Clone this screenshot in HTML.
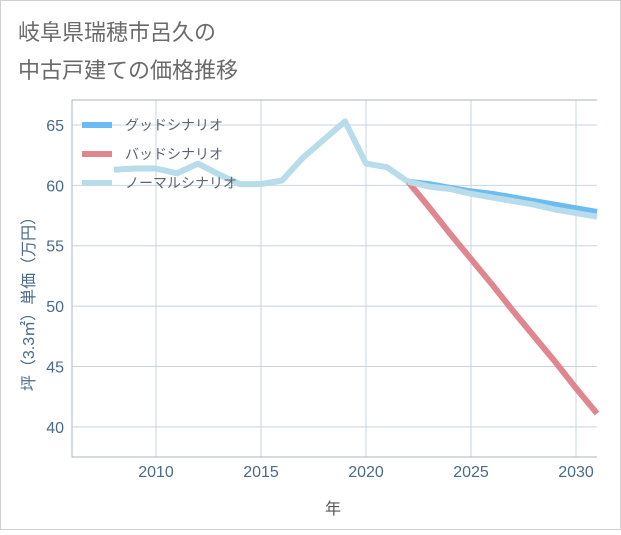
<!DOCTYPE html>
<html><head><meta charset="utf-8"><style>
body{margin:0;background:#fff;}
svg text{font-family:"Liberation Sans","Noto Sans CJK JP",sans-serif;}
</style></head><body>
<svg width="621" height="530" viewBox="0 0 621 530" xmlns="http://www.w3.org/2000/svg">
<rect x="0.5" y="0.5" width="620" height="529" fill="#fff" stroke="#d0d0d0"/>
<text x="18" y="40" font-size="22" fill="#6a6a6a">岐阜県瑞穂市呂久の</text>
<text x="18" y="78" font-size="22" fill="#6a6a6a">中古戸建ての価格推移</text>
<g id="grid"></g>
<g id="series"></g>
<g id="axes"></g>
<text x="333" y="514" font-size="16" fill="#555" text-anchor="middle">年</text>
<text transform="translate(34,300) rotate(-90)" font-size="16" fill="#4a6a8a" text-anchor="middle">坪（3.3㎡）単価（万円）</text>
<g id="legend"></g>
</svg>
<script>
const xTicks=[2010,2015,2020,2025,2030];
const yTicks=[40,45,50,55,60,65];
const histYears=[2008,2009,2010,2011,2012,2013,2014,2015,2016,2017,2018,2019,2020,2021,2022];
const histValues=[61.3,61.4,61.4,61.0,61.8,60.9,60.1,60.1,60.4,62.3,63.8,65.3,61.8,61.5,60.3];
const futYears=[2022,2023,2024,2025,2026,2027,2028,2029,2030,2031];
const goodValues=[60.3,60.1,59.8,59.5,59.3,59.0,58.7,58.4,58.1,57.8];
const badValues=[60.3,58.2,56.0,53.9,51.8,49.6,47.5,45.4,43.2,41.1];
const normalValues=[60.3,59.9,59.7,59.3,59.0,58.7,58.4,58.0,57.7,57.4];
const seriesNames=["グッドシナリオ","バッドシナリオ","ノーマルシナリオ"];
const L=72,R=597,T=100,B=457,x0=2006,x1=2031,y0=37.5,y1=67.07;
const sx=v=>L+(v-x0)/(x1-x0)*(R-L);
const sy=v=>B-(v-y0)/(y1-y0)*(B-T);
const NS="http://www.w3.org/2000/svg";
function mk(t,a,p){const e=document.createElementNS(NS,t);for(const k in a)e.setAttribute(k,a[k]);p.appendChild(e);return e;}
const grid=document.getElementById('grid'),axes=document.getElementById('axes'),ser=document.getElementById('series'),leg=document.getElementById('legend');
xTicks.forEach(t=>{const l=mk('line',{x1:sx(t),x2:sx(t),y1:T,y2:B,stroke:'#c8d4e0','stroke-width':1},grid);


const tx=mk('text',{x:sx(t),y:B+20,'font-size':16,fill:'#4a6a8a','text-anchor':'middle'},axes);tx.textContent=t;

});
yTicks.forEach(t=>{const l=mk('line',{x1:L,x2:R,y1:sy(t),y2:sy(t),stroke:'#c8d4e0','stroke-width':1},grid);


const tx=mk('text',{x:L-8,y:sy(t)+6,'font-size':16,fill:'#4a6a8a','text-anchor':'end'},axes);tx.textContent=t;

});
const fr=mk('path',{d:`M${R},${T}H${L}V${B}H${R}`,fill:'none',stroke:'#aab4c0','stroke-width':1},axes);


function path(xs,ys){return xs.map((x,i)=>(i?'L':'M')+sx(x).toFixed(1)+','+sy(ys[i]).toFixed(1)).join('');}
const pg=mk('path',{d:path(futYears,goodValues),fill:'none',stroke:'#6bbcf0','stroke-width':6,'stroke-linejoin':'round'},ser);


const pb=mk('path',{d:path(futYears,badValues),fill:'none',stroke:'#e0868f','stroke-width':6,'stroke-linejoin':'round'},ser);


const pn=mk('path',{d:path(futYears,normalValues),fill:'none',stroke:'#b9dcea','stroke-width':6,'stroke-linejoin':'round'},ser);


const ph=mk('path',{d:path(histYears,histValues),fill:'none',stroke:'#b9dcea','stroke-width':6,'stroke-linejoin':'round'},ser);


const cols=['#6bbcf0','#e0868f','#b9dcea'];
seriesNames.forEach((n,i)=>{const y=125+i*29;
const s=mk('line',{x1:82,x2:112,y1:y,y2:y,stroke:cols[i],'stroke-width':6},leg);


const t=mk('text',{x:125,y:y+5,'font-size':14,fill:'#5a6470'},leg);t.textContent=n;

});
</script>
</body></html>
